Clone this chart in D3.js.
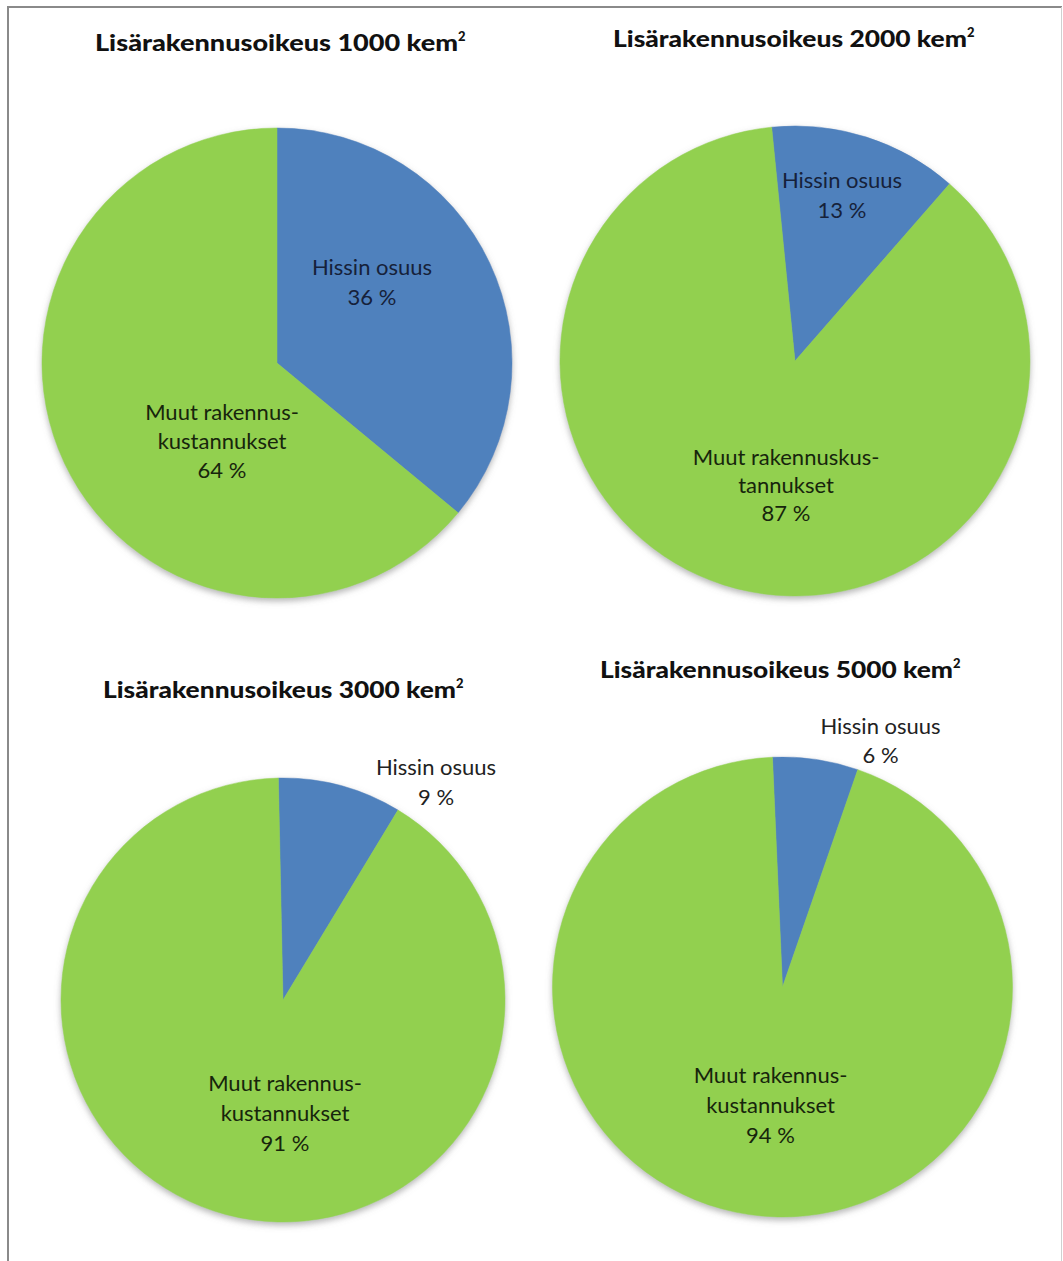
<!DOCTYPE html>
<html>
<head>
<meta charset="utf-8">
<script src="https://cdn.jsdelivr.net/npm/d3@7"></script>
<style>
  html, body { margin: 0; padding: 0; background: #ffffff; }
  svg { display: block; }
</style>
</head>
<body>
<script>
// ---------------- DATA ----------------
const chartTitles = ["Lisärakennusoikeus 1000 kem", "Lisärakennusoikeus 2000 kem",
                     "Lisärakennusoikeus 3000 kem", "Lisärakennusoikeus 5000 kem"];
const titleSup = "2";
const categories = ["Hissin osuus", "Muut rakennuskustannukset"];
const hissinOsuus = [36, 13, 9, 6];
const muutKustannukset = [64, 87, 91, 94];
const hissiLabelLines = [["Hissin osuus"], ["Hissin osuus"], ["Hissin osuus"], ["Hissin osuus"]];
const muutLabelLines = [["Muut rakennus-", "kustannukset"], ["Muut rakennuskus-", "tannukset"],
                        ["Muut rakennus-", "kustannukset"], ["Muut rakennus-", "kustannukset"]];
const sliceColors = ["#4F81BD", "#92D050"];

// ---------------- LAYOUT ----------------
const W = 1063, H = 1261;
const layout = [
  { cx: 277, cy: 363, r: 235, rot: 0,
    title: { x: 95, y: 51, w: 363 },
    hissi: { dx: 95, dy: -96, lh: 30, color: "#16213a" },
    muut:  { dx: -55, dy: 49, lh: 29, color: "#17250c" } },
  { cx: 795, cy: 361, r: 235, rot: -5.7,
    title: { x: 613, y: 47, w: 354 },
    hissi: { dx: 47, dy: -181, lh: 30, color: "#16213a" },
    muut:  { dx: -9, dy: 96, lh: 28, color: "#17250c" } },
  { cx: 283, cy: 1000, r: 222, rot: -1.2,
    title: { x: 103, y: 698, w: 353 },
    hissi: { dx: 153, dy: -233, lh: 30, color: "#222222" },
    muut:  { dx: 2, dy: 83, lh: 30, color: "#17250c" } },
  { cx: 782.5, cy: 987, r: 230, rot: -2.5,
    title: { x: 600, y: 678, w: 353 },
    hissi: { dx: 98, dy: -261, lh: 29, color: "#222222" },
    muut:  { dx: -12, dy: 88, lh: 30, color: "#17250c" } }
];

const svg = d3.select("body").append("svg")
  .attr("width", W).attr("height", H)
  .style("font-family", "Lato, 'Open Sans', sans-serif");

const defs = svg.append("defs");
const f = defs.append("filter").attr("id", "shadow")
  .attr("x", "-10%").attr("y", "-10%").attr("width", "120%").attr("height", "125%");
f.append("feDropShadow").attr("dx", 0).attr("dy", 3).attr("stdDeviation", 3)
  .attr("flood-color", "#7a7a7a").attr("flood-opacity", 0.55);

// frame
svg.append("line").attr("x1", 7).attr("x2", 1062).attr("y1", 7).attr("y2", 7)
  .attr("stroke", "#8a8a8a").attr("stroke-width", 2);
svg.append("line").attr("x1", 8).attr("x2", 8).attr("y1", 6).attr("y2", H)
  .attr("stroke", "#8a8a8a").attr("stroke-width", 2);
svg.append("line").attr("x1", 1061.5).attr("x2", 1061.5).attr("y1", 7).attr("y2", H)
  .attr("stroke", "#d0d0d0").attr("stroke-width", 1);

const pctFmt = v => v + " %";

layout.forEach((L, i) => {
  const values = [hissinOsuus[i], muutKustannukset[i]];
  const rot = L.rot * Math.PI / 180;
  const pie = d3.pie().sort(null).value(d => d)
    .startAngle(rot).endAngle(rot + 2 * Math.PI);
  const arc = d3.arc().innerRadius(0).outerRadius(L.r);
  const g = svg.append("g").attr("transform", `translate(${L.cx},${L.cy})`);

  const slices = g.append("g").attr("filter", "url(#shadow)");
  slices.selectAll("path").data(pie(values)).join("path")
    .attr("d", arc)
    .attr("fill", (d, j) => sliceColors[j])
    .attr("stroke", (d, j) => sliceColors[j])
    .attr("stroke-width", 0.5);

  // title
  const t = svg.append("text")
    .attr("x", L.title.x).attr("y", L.title.y)
    .attr("font-weight", 900).attr("font-size", 23).attr("fill", "#111");
  t.append("tspan").text(chartTitles[i])
    .attr("textLength", L.title.w).attr("lengthAdjust", "spacingAndGlyphs");
  t.append("tspan").text(titleSup).attr("font-size", 13).attr("dy", -10).attr("dx", 0);

  // labels
  function drawLabel(cfg, lines, value) {
    const all = lines.concat([pctFmt(value)]);
    const lt = g.append("text").attr("text-anchor", "middle")
      .attr("font-size", 22).attr("fill", cfg.color);
    all.forEach((s, k) => {
      lt.append("tspan").attr("x", cfg.dx).attr("y", cfg.dy + k * cfg.lh)
        .attr("dy", "0.35em").text(s);
    });
  }
  drawLabel(L.hissi, hissiLabelLines[i], values[0]);
  drawLabel(L.muut, muutLabelLines[i], values[1]);
});
</script>
</body>
</html>
